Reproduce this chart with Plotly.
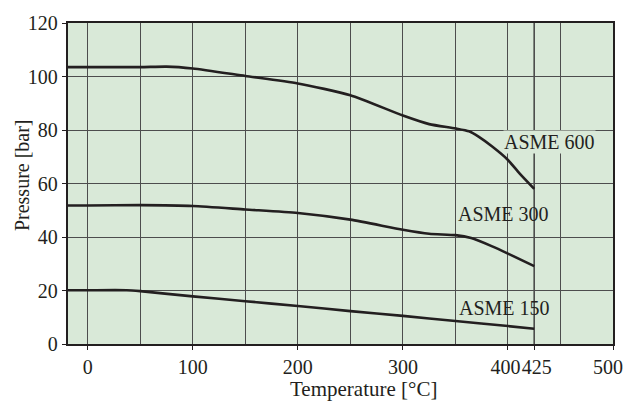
import plotly.graph_objects as go

# Pressure rating curves, temperature in °C, pressure in bar
temp_600 = [-20, 0, 50, 75, 100, 150, 200, 250, 300, 325, 350, 363, 372, 385, 400, 411, 425]
pres_600 = [103.5, 103.5, 103.5, 103.7, 103.0, 100.2, 97.4, 93.0, 85.4, 82.2, 80.6, 79.5, 77.5, 73.8, 68.8, 63.8, 58.0]

temp_300 = [-20, 0, 50, 100, 150, 200, 250, 300, 325, 350, 365, 385, 400, 425]
pres_300 = [51.8, 51.8, 51.9, 51.6, 50.3, 49.0, 46.5, 42.7, 41.2, 40.7, 39.6, 36.5, 33.8, 29.1]

temp_150 = [-20, 0, 37, 50, 100, 150, 200, 250, 300, 350, 400, 425]
pres_150 = [20.1, 20.1, 20.1, 19.75, 17.8, 16.0, 14.2, 12.3, 10.5, 8.6, 6.7, 5.7]

series_names = ["ASME 600", "ASME 300", "ASME 150"]
label_pos = [(395.5, 75.4), (351.4, 48.7), (352.7, 13.3)]

x_ticks = [0, 100, 200, 300, 400, 425, 500]
x_tick_text = ["0", "100", "200", "300", "400\u00a0", "\u00a0425", "500\u2002"]
x_minor = [50, 150, 250, 350, 450]
y_ticks = [0, 20, 40, 60, 80, 100, 120]

INK = "#231f20"
BG = "#d9e9d8"
GRID = "#4d4d4d"
FONT = "Liberation Serif"
FS = 20

fig = go.Figure()
for xs, ys, name in zip([temp_600, temp_300, temp_150],
                        [pres_600, pres_300, pres_150], series_names):
    fig.add_trace(go.Scatter(
        x=xs, y=ys, mode="lines", name=name,
        line=dict(color=INK, width=2.6, shape="spline", smoothing=0.6),
        showlegend=False, hoverinfo="skip",
    ))

# dark marker line at the 425 °C limit
fig.add_shape(type="line", x0=425, x1=425, y0=0, y1=120,
              line=dict(color="#111", width=1.3), layer="below")

for name, (lx, ly) in zip(series_names, label_pos):
    fig.add_annotation(x=lx, y=ly, text=name, showarrow=False,
                       xanchor="left", yanchor="middle",
                       font=dict(family=FONT, size=FS, color=INK),
                       bgcolor=BG if name == "ASME 600" else None, borderpad=0)

# axis titles
fig.add_annotation(xref="paper", yref="paper", x=0.5416, y=-0.140,
                   text="Temperature [°C]", showarrow=False,
                   xanchor="center", yanchor="middle",
                   font=dict(family=FONT, size=FS + 1, color=INK))
fig.add_annotation(xref="paper", yref="paper", x=-0.0845, y=0.526,
                   text="Pressure [bar]", showarrow=False, textangle=-90,
                   xanchor="center", yanchor="middle",
                   font=dict(family=FONT, size=FS, color=INK))

fig.update_layout(
    width=625, height=403,
    margin=dict(l=68, r=12, t=23, b=59, autoexpand=False),
    paper_bgcolor="white", plot_bgcolor=BG,
    font=dict(family=FONT, size=FS, color=INK),
)
fig.update_xaxes(
    range=[-18.8, 500], tickmode="array", tickvals=x_ticks,
    ticktext=x_tick_text, tickangle=0, ticklabeloverflow="allow",
    automargin=False,
    showgrid=True, gridcolor=GRID, gridwidth=1.2,
    minor=dict(tickmode="array", tickvals=x_minor, showgrid=True,
               gridcolor=GRID, gridwidth=1.2, ticks=""),
    showline=True, linecolor=INK, linewidth=2.4, mirror=True,
    ticks="outside", ticklen=4, tickcolor=INK, tickwidth=1,
    zeroline=False,
)
fig.update_yaxes(
    range=[0, 120], tickmode="array", tickvals=y_ticks, automargin=False,
    showgrid=True, gridcolor=GRID, gridwidth=1.2,
    showline=True, linecolor=INK, linewidth=2.4, mirror=True,
    ticks="outside", ticklen=4, tickcolor=INK, tickwidth=1,
    ticklabelstandoff=0, zeroline=False,
)

fig.write_html("out.html")
